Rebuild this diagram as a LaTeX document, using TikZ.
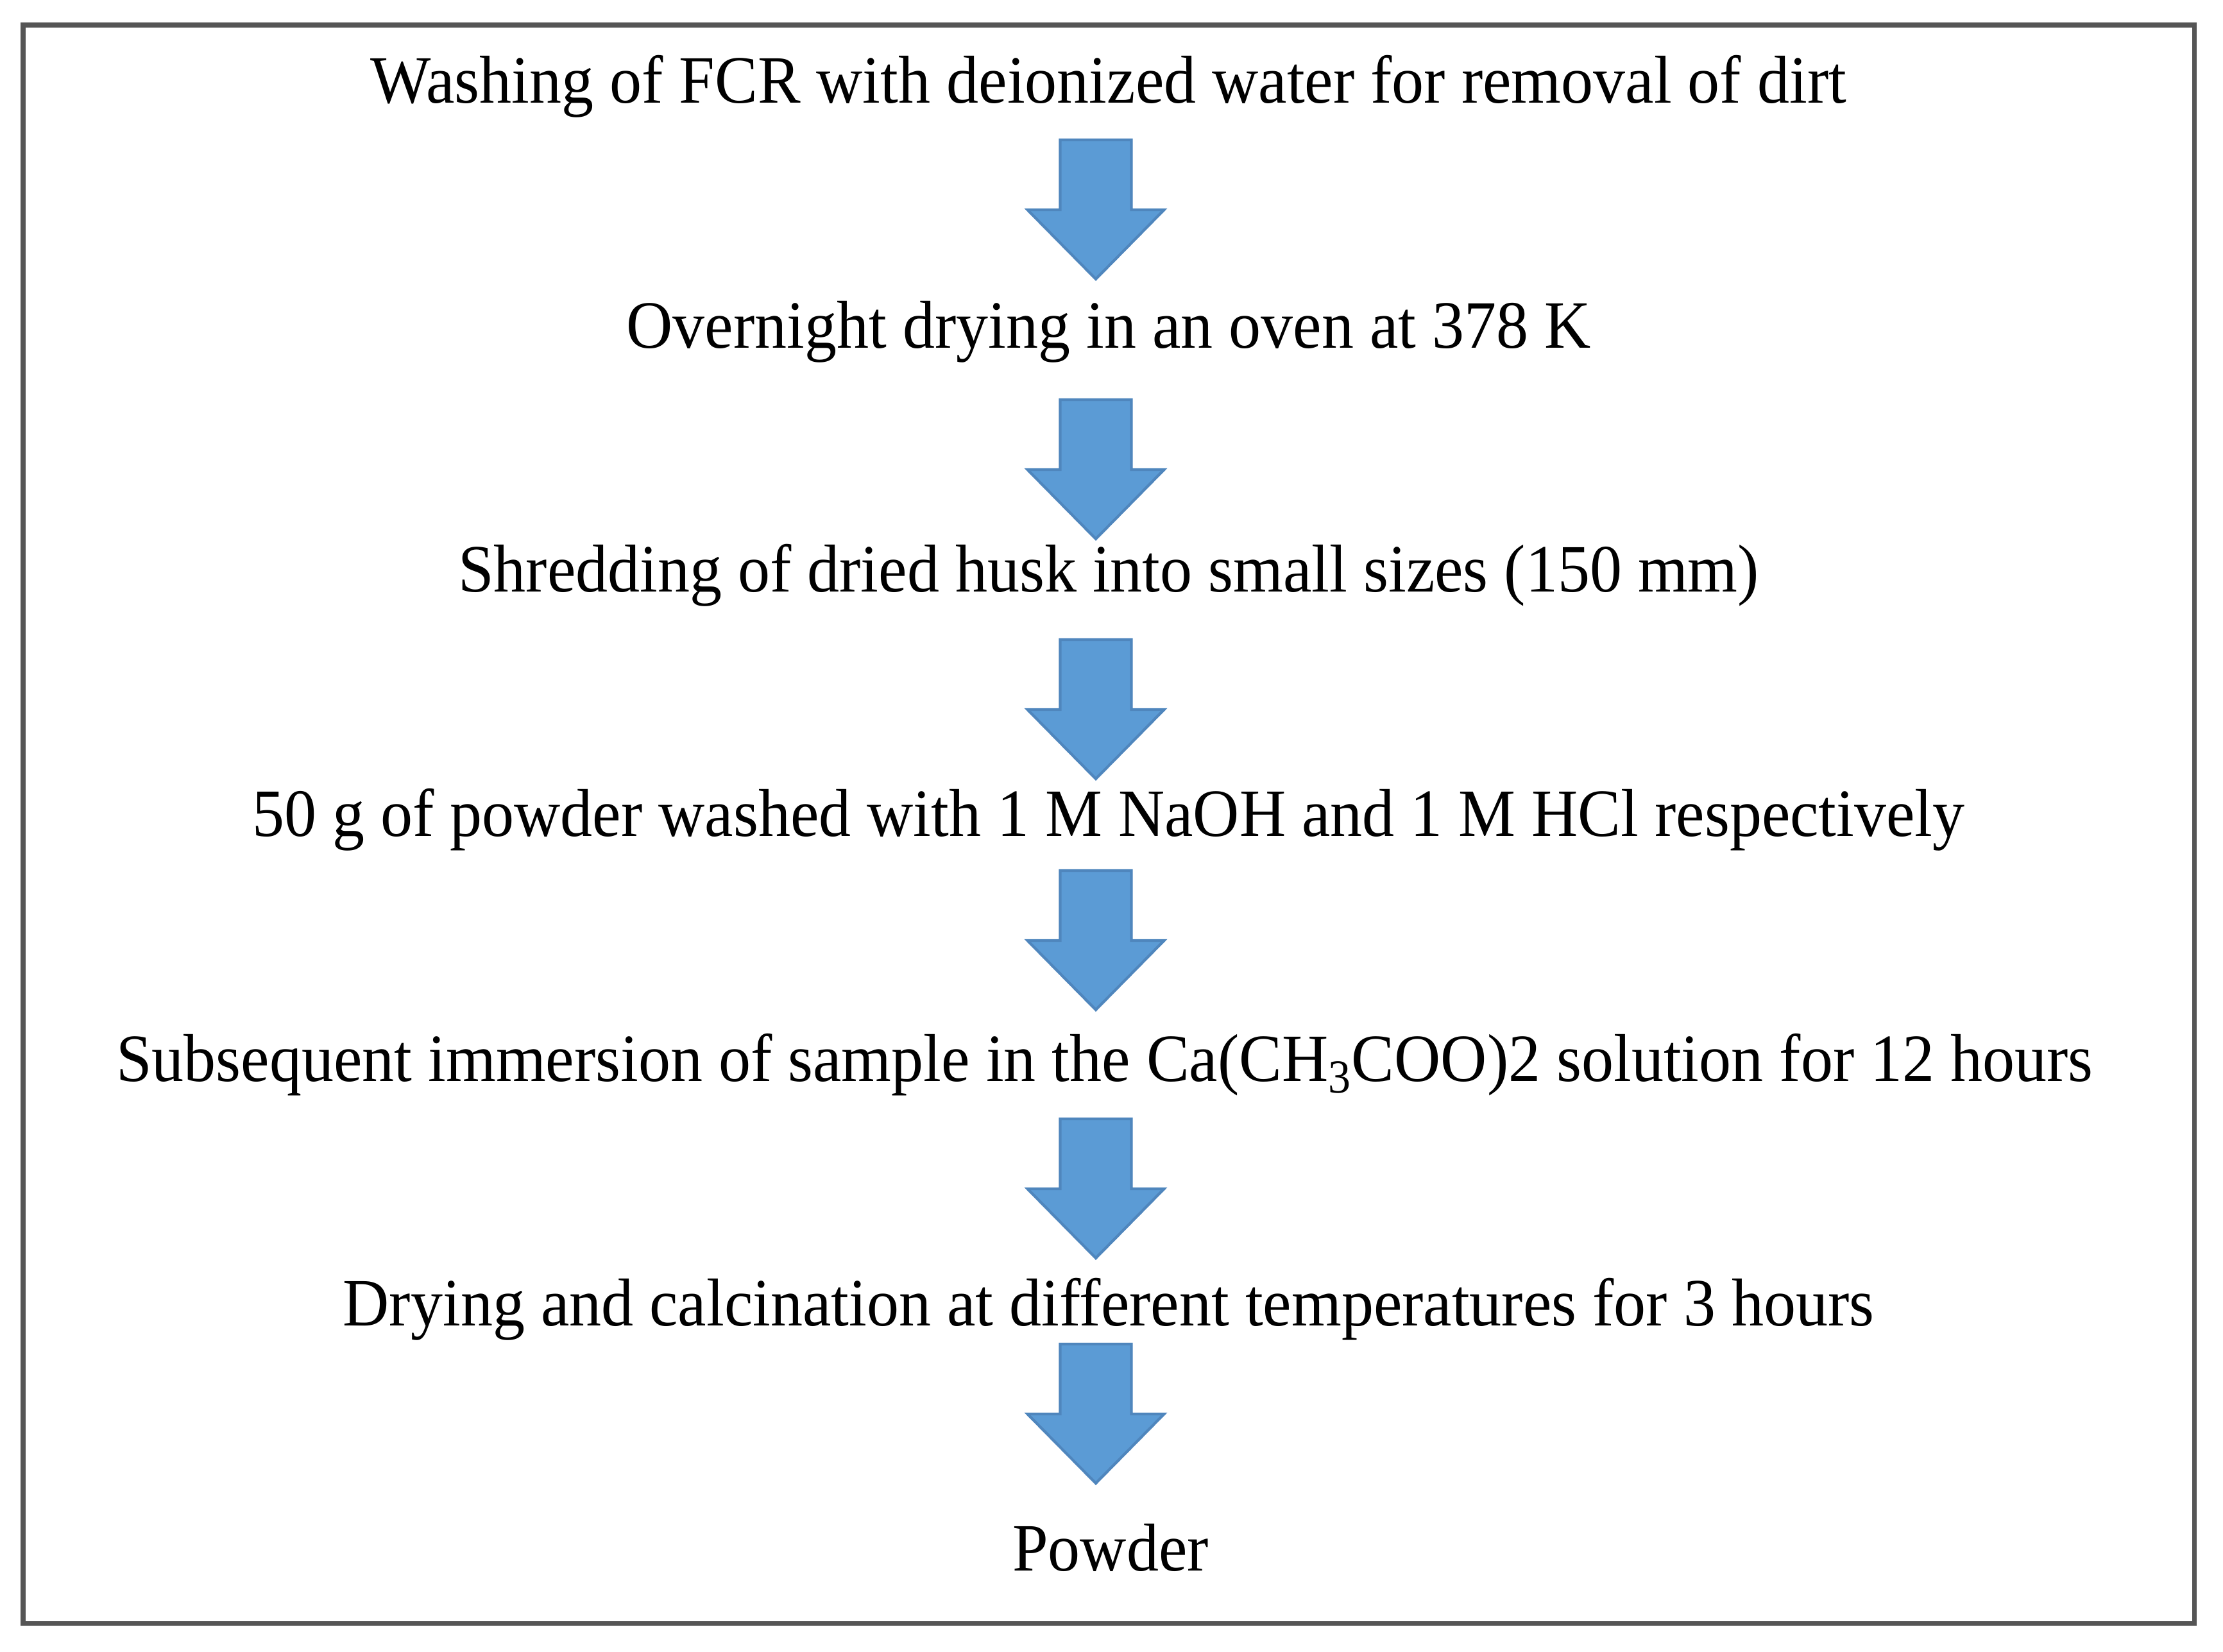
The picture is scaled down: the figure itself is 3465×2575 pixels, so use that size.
\documentclass[tikz,border=0pt]{standalone}
\usepackage{fontspec}
\setmainfont[FakeStretch=0.948]{Liberation Serif}
\definecolor{arrowfill}{HTML}{5B9BD5}
\definecolor{arrowline}{HTML}{4F86BD}
\definecolor{framecol}{HTML}{555555}
\begin{document}
\begin{tikzpicture}[x=0.01cm,y=-0.01cm,
  frame/.style={draw=framecol,line width=2pt},
  steptext/.style={anchor=base,inner sep=0pt,font=\fontsize{30pt}{36pt}\selectfont},
  blockarrow/.style={fill=arrowfill,draw=arrowline,line width=1.2pt,line join=miter},
  downarrow/.pic={\draw[blockarrow] (-55.5,0) -- (55.5,0) -- (55.5,109) -- (106.5,109) -- (0,217) -- (-106.5,109) -- (-55.5,109) -- cycle;}]
\useasboundingbox (0,0) rectangle (3465,2575);
\draw[frame] (36,39) rectangle (3420,2530);
\node[steptext] (t1) at (1728,160) {Washing of FCR with deionized water for removal of dirt};
\node[steptext] (t2) at (1728,542) {Overnight drying in an oven at 378 K};
\node[steptext] (t3) at (1728,922) {Shredding of dried husk into small sizes (150 mm)};
\node[steptext] (t4) at (1728,1303) {50 g of powder washed with 1 M NaOH and 1 M HCl respectively};
\node[steptext] (t5) at (1722,1685) {Subsequent immersion of sample in the Ca(CH\textsubscript{3}COO)2 solution for 12 hours};
\node[steptext] (t6) at (1728,2066) {Drying and calcination at different temperatures for 3 hours};
\node[steptext] (t7) at (1731,2448) {Powder};
\pic at (1708,218) {downarrow};
\pic at (1708,623) {downarrow};
\pic at (1708,997) {downarrow};
\pic at (1708,1357) {downarrow};
\pic at (1708,1744) {downarrow};
\pic at (1708,2095) {downarrow};
\end{tikzpicture}
\end{document}
